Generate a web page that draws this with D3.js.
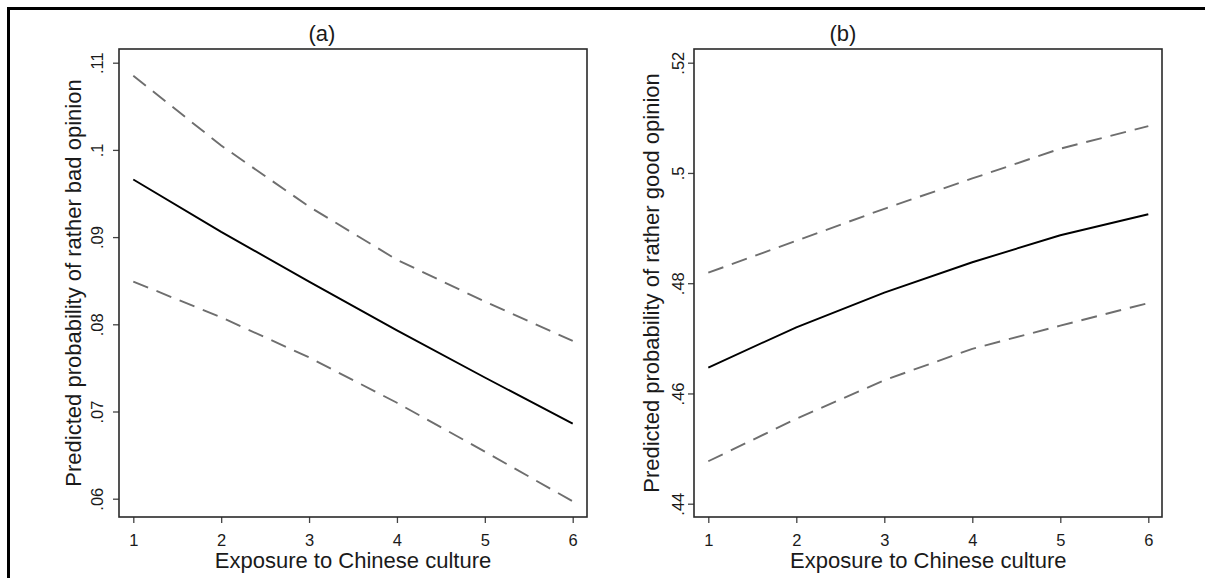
<!DOCTYPE html>
<html>
<head>
<meta charset="utf-8">
<script src="https://cdn.jsdelivr.net/npm/d3@7"></script>
<style>
  body { margin: 0; background: #fff; }
  text { font-family: "Liberation Sans", Arial, sans-serif; fill: #1a1a1a; }
</style>
</head>
<body>
<svg id="chart" width="1205" height="578"></svg>
<script>
// values
const exposure = [1, 2, 3, 4, 5, 6]

const badFit = [0.0966, 0.0906, 0.0849, 0.0793, 0.0739, 0.0686]
const badUpper = [0.1085, 0.1005, 0.0935, 0.0874, 0.0826, 0.0781]
const badLower = [0.0849, 0.0808, 0.0762, 0.0710, 0.0654, 0.0597]

const goodFit = [0.4647, 0.4720, 0.4783, 0.4838, 0.4887, 0.4925]
const goodUpper = [0.4819, 0.4877, 0.4935, 0.4990, 0.5044, 0.5085]
const goodLower = [0.4477, 0.4554, 0.4624, 0.4681, 0.4723, 0.4764]

const badTicks = [0.06, 0.07, 0.08, 0.09, 0.10, 0.11]
const goodTicks = [0.44, 0.46, 0.48, 0.50, 0.52]

const xTitle = "Exposure to Chinese culture"

const svg = d3.select("#chart")

// outer frame of the combined graph
svg.append("rect")
  .attr("x", 8.5)
  .attr("y", 8.5)
  .attr("width", 1300)
  .attr("height", 700)
  .attr("fill", "none")
  .attr("stroke", "#000")
  .attr("stroke-width", 3)

const fmt = (d) => String(+d.toFixed(2)).replace(/^0/, "")

function drawPanel (cfg) {
  const box = cfg.box
  const x = d3.scaleLinear().domain([1, 6]).range(cfg.xRange)
  const y = d3.scaleLinear().domain(cfg.yDomain).range(cfg.yRange)

  const g = svg.append("g")

  // y axis, labels rotated like Stata
  const yAxis = g.append("g")
    .attr("transform", `translate(${box.left},0)`)
    .call(d3.axisLeft(y).tickValues(cfg.yTicks).tickFormat(fmt).tickSize(6).tickSizeOuter(0))
    .attr("font-size", 16.5)
    .attr("font-family", null)
  yAxis.select(".domain").remove()
  yAxis.selectAll(".tick line").attr("stroke", "#444").attr("stroke-width", 1.3)
  yAxis.selectAll(".tick text")
    .attr("x", null)
    .attr("dy", null)
    .attr("text-anchor", "middle")
    .attr("transform", `translate(${cfg.labelX - box.left},0) rotate(-90)`)

  // x axis
  const xAxis = g.append("g")
    .attr("transform", `translate(0,${box.bottom})`)
    .call(d3.axisBottom(x).tickValues(exposure).tickFormat(d3.format("d")).tickSize(6).tickSizeOuter(0))
    .attr("font-size", 16.5)
    .attr("font-family", null)
  xAxis.select(".domain").remove()
  xAxis.selectAll(".tick line").attr("stroke", "#444").attr("stroke-width", 1.3)
  xAxis.selectAll(".tick text")
    .attr("dy", null)
    .attr("y", 546 - box.bottom)

  // plot region border
  g.append("rect")
    .attr("x", box.left)
    .attr("y", box.top)
    .attr("width", box.right - box.left)
    .attr("height", box.bottom - box.top)
    .attr("fill", "none")
    .attr("stroke", "#2a2a2a")
    .attr("stroke-width", 1.6)

  const line = d3.line()
    .x((d, i) => x(exposure[i]))
    .y((d) => y(d))

  const series = [
    {values: cfg.upper, color: "#6e6e6e", dash: "16,9"},
    {values: cfg.lower, color: "#6e6e6e", dash: "16,9"},
    {values: cfg.fit, color: "#000", dash: null}
  ]

  g.selectAll(".mark")
    .data(series)
    .enter()
    .append("path")
    .attr("class", "mark")
    .attr("d", (d) => line(d.values))
    .attr("fill", "none")
    .attr("stroke", (d) => d.color)
    .attr("stroke-width", 1.9)
    .attr("stroke-dasharray", (d) => d.dash)

  // titles
  g.append("text")
    .attr("x", cfg.titleX)
    .attr("y", 40.5)
    .attr("text-anchor", "middle")
    .attr("font-size", 22)
    .text(cfg.title)

  g.append("text")
    .attr("x", (cfg.xRange[0] + cfg.xRange[1]) / 2)
    .attr("y", 567.5)
    .attr("text-anchor", "middle")
    .attr("font-size", 22)
    .text(xTitle)

  g.append("text")
    .attr("transform", `translate(${cfg.yTitleX},${(box.top + box.bottom) / 2}) rotate(-90)`)
    .attr("text-anchor", "middle")
    .attr("font-size", 22)
    .text(cfg.yTitle)
}

drawPanel({
  title: "(a)",
  titleX: 322,
  yTitle: "Predicted probability of rather bad opinion",
  yTitleX: 81,
  labelX: 103,
  box: {left: 119, top: 49, right: 587, bottom: 517},
  xRange: [133.3, 572.7],
  yDomain: [0.06, 0.11],
  yRange: [498.7, 62.7],
  yTicks: badTicks,
  fit: badFit,
  upper: badUpper,
  lower: badLower
})

drawPanel({
  title: "(b)",
  titleX: 843,
  yTitle: "Predicted probability of rather good opinion",
  yTitleX: 658.5,
  labelX: 683.5,
  box: {left: 694, top: 49, right: 1162, bottom: 517},
  xRange: [708.3, 1148.3],
  yDomain: [0.44, 0.52],
  yRange: [503.7, 62.7],
  yTicks: goodTicks,
  fit: goodFit,
  upper: goodUpper,
  lower: goodLower
})
</script>
</body>
</html>
